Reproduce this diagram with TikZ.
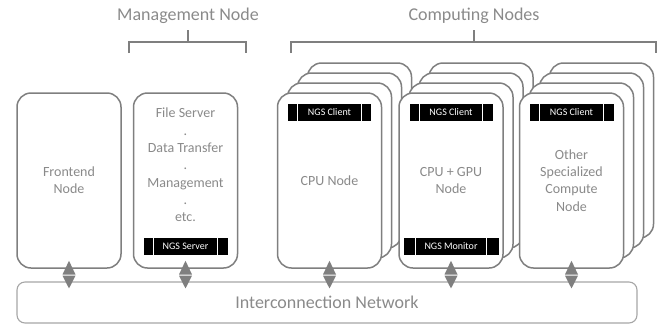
\documentclass[tikz,border=0pt]{standalone}
\usepackage{fontspec}
\setmainfont{Carlito}
\usetikzlibrary{calc}
\definecolor{linegray}{HTML}{7F7F7F}
\definecolor{txtgray}{HTML}{8A8A8A}
\definecolor{netgray}{HTML}{A6A6A6}
\begin{document}
\begin{tikzpicture}[x=1pt,y=-1pt,
 cardbox/.style={draw=linegray, line width=1.5pt, fill=white, rounded corners=14pt,
   minimum width=104pt, minimum height=175pt, inner sep=0pt, align=center,
   text=txtgray, font=\fontsize{14}{17.3}\selectfont},
 cardtext/.style={inner sep=0pt, align=center, text=txtgray, font=\fontsize{14}{17.3}\selectfont},
 ngsbar/.style={fill=black, text=white, font=\fontsize{10}{12}\selectfont,
   minimum height=17pt, inner sep=0pt},
 titletext/.style={text=txtgray, font=\fontsize{18}{22}\selectfont, inner sep=0pt},
 bracket/.style={draw=linegray, line width=1.3pt},
 arrowhead/.style={fill=linegray},
 netbox/.style={draw=netgray, line width=1.1pt, rounded corners=8pt,
   minimum width=620pt, minimum height=41pt, inner sep=0pt,
   text=txtgray, font=\fontsize{18}{22}\selectfont},
 barline/.style={draw=white, line width=1pt},
]
\useasboundingbox (0,0) rectangle (664,325);

% titles and brackets
\node[titletext] (mgt) at (188,15.5) {Management Node};
\node[titletext] (cpt) at (474,15.5) {Computing Nodes};
\coordinate (mgs) at (188,30); \coordinate (mgb) at (188,42);
\coordinate (cps) at (474,30); \coordinate (cpb) at (474,42);
\draw[bracket] (129,53) -- (129,42) -- (246,42) -- (246,53);
\draw[bracket] (291,53) -- (291,42) -- (656,42) -- (656,53);
\draw[bracket] (mgs) -- (mgb);
\draw[bracket] (cps) -- (cpb);

% frontend and management
\node[cardbox] (fe) at (69,180.5) {Frontend\\Node};
\node[cardbox] (mg) at (185.5,180.5) {};
\node[cardtext] (mgtext) at ($(mg.center)+(0,-15.5)$)
  {File Server\\.\\Data Transfer\\.\\Management\\.\\etc.};
\node[ngsbar, minimum width=84pt] (mgbar) at ($(mg.south)+(0,-22.5)$) {NGS Server};

% CPU stack
\foreach \i in {3,2,1} \node[cardbox] at ({329.5+10*\i},{180.5-10*\i}) {};
\node[cardbox] (cpu) at (329.5,180.5) {CPU Node};
\node[ngsbar, minimum width=83pt] (cpubar) at ($(cpu.north)+(0,20)$) {NGS Client};

% CPU + GPU stack
\foreach \i in {3,2,1} \node[cardbox] at ({451+10*\i},{180.5-10*\i}) {};
\node[cardbox] (gpu) at (451,180.5) {CPU + GPU\\Node};
\node[ngsbar, minimum width=83pt] (gpubar) at ($(gpu.north)+(0,20)$) {NGS Client};
\node[ngsbar, minimum width=95pt] (gpumon) at ($(gpu.south)+(0,-22.5)$) {NGS Monitor};

% Other stack
\foreach \i in {3,2,1} \node[cardbox] at ({571.5+10*\i},{180.5-10*\i}) {};
\node[cardbox] (oth) at (571.5,180.5) {Other\\Specialized\\Compute\\Node};
\node[ngsbar, minimum width=84pt] (othbar) at ($(oth.north)+(0,20)$) {NGS Client};

% separators in bars
\foreach \b/\d in {mgbar/10,cpubar/10,gpubar/10,gpumon/12,othbar/10} {
  \draw[barline] ($(\b.north west)+(\d,0)$) -- ($(\b.south west)+(\d,0)$);
  \draw[barline] ($(\b.north east)+(-\d,0)$) -- ($(\b.south east)+(-\d,0)$);
}

% network
\node[netbox] (net) at (327,302.5) {Interconnection Network};

% double arrows between each node and the network
\foreach \n in {fe,mg,cpu,gpu,oth} {
  \coordinate (\n-mid) at ($(\n.south)!0.5!(\n.south |- net.north)$);
  \fill[arrowhead] ($(\n-mid)+(-6.5,-0.6)$) -- ($(\n.south)+(0,-8)$) -- ($(\n-mid)+(6.5,-0.6)$) -- cycle;
  \fill[arrowhead] ($(\n-mid)+(-6.5,0.6)$) -- ($(\n.south |- net.north)+(0,7)$) -- ($(\n-mid)+(6.5,0.6)$) -- cycle;
}
\end{tikzpicture}
\end{document}
